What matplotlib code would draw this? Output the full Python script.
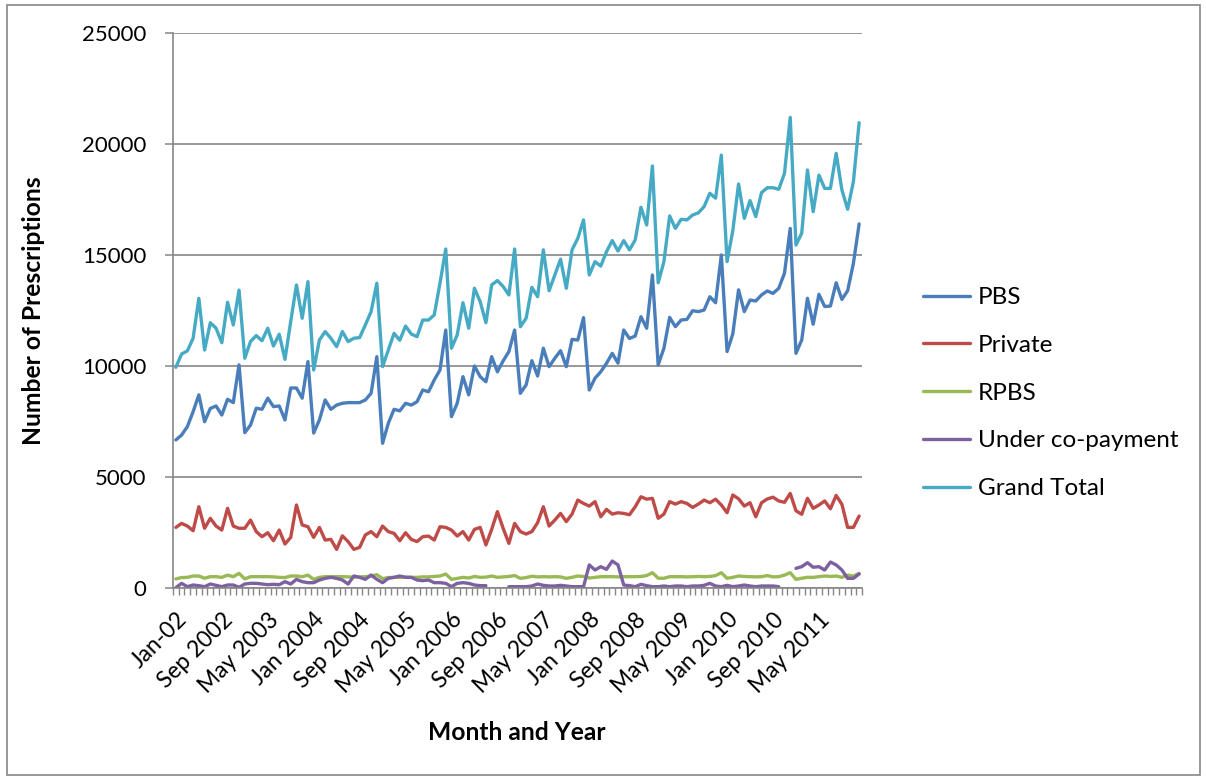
import numpy as np
import matplotlib
matplotlib.use("Agg")
import matplotlib.pyplot as plt
import matplotlib.transforms as mtransforms
from matplotlib.patches import Rectangle

# ---- data (Jan 2002 .. Dec 2011, monthly) ----
tick_labels = ["Jan-02", "Sep 2002", "May 2003", "Jan 2004", "Sep 2004", "May 2005",
               "Jan 2006", "Sep 2006", "May 2007", "Jan 2008", "Sep 2008", "May 2009",
               "Jan 2010", "Sep 2010", "May 2011"]

pbs = [6670, 6890, 7270, 7940, 8700, 7490, 8090, 8200, 7790, 8500, 8350, 10050,
       7000, 7340, 8100, 8050, 8550, 8170, 8200, 7570, 9010, 9010, 8550, 10200,
       6980, 7570, 8470, 8050, 8240, 8320, 8350, 8350, 8350, 8470, 8770, 10420,
       6520, 7420, 8050, 7980, 8320, 8240, 8390, 8920, 8840, 9370, 9820, 11620,
       7720, 8320, 9520, 8700, 10000, 9520, 9290, 10420, 9740, 10230, 10650, 11620,
       8770, 9150, 10240, 9550, 10800, 9970, 10350, 10690, 9970, 11200, 11170, 12180,
       8920, 9450, 9740, 10120, 10570, 10130, 11620, 11240, 11350, 12220, 11700, 14100,
       10050, 10800, 12190, 11770, 12070, 12100, 12490, 12450, 12520, 13120, 12850, 15000,
       10650, 11450, 13430, 12450, 12970, 12930, 13200, 13380, 13270, 13500, 14180, 16200,
       10570, 11170, 13050, 11880, 13230, 12680, 12700, 13750, 13000, 13390, 14620, 16400]

private = [2730, 2910, 2790, 2580, 3660, 2690, 3140, 2790, 2610, 3590, 2790, 2690,
           2690, 3060, 2540, 2310, 2490, 2130, 2610, 1980, 2280, 3740, 2840, 2760,
           2280, 2730, 2160, 2190, 1740, 2350, 2090, 1740, 1830, 2390, 2540, 2310,
           2790, 2540, 2460, 2130, 2490, 2190, 2090, 2310, 2340, 2160, 2760, 2730,
           2610, 2340, 2540, 2160, 2640, 2730, 1940, 2640, 3440, 2690, 2010, 2910,
           2540, 2430, 2540, 2940, 3660, 2790, 3060, 3360, 2990, 3330, 3960, 3810,
           3690, 3890, 3210, 3540, 3330, 3390, 3360, 3300, 3660, 4110, 4000, 4040,
           3140, 3330, 3890, 3780, 3890, 3810, 3630, 3780, 3960, 3840, 4000, 3740,
           3390, 4190, 4020, 3690, 3840, 3210, 3840, 4010, 4090, 3920, 3860, 4260,
           3480, 3320, 4040, 3590, 3740, 3920, 3570, 4170, 3770, 2730, 2730, 3240]

rpbs = [410, 470, 480, 540, 540, 440, 510, 510, 480, 580, 510, 660,
        410, 510, 510, 510, 510, 500, 480, 470, 540, 540, 510, 580,
        390, 480, 510, 510, 510, 510, 500, 490, 500, 510, 540, 600,
        420, 470, 480, 480, 490, 480, 480, 500, 500, 520, 540, 630,
        390, 430, 480, 450, 520, 480, 490, 540, 480, 500, 520, 560,
        435, 470, 530, 500, 510, 500, 510, 500, 435, 480, 540, 520,
        450, 480, 510, 510, 510, 500, 510, 510, 510, 520, 560, 690,
        440, 440, 510, 510, 510, 500, 510, 520, 510, 520, 560, 690,
        435, 480, 540, 520, 510, 500, 510, 560, 500, 510, 580, 690,
        390, 440, 480, 480, 510, 540, 520, 540, 480, 580, 540, 660]

nan = np.nan
under_copay = [15, 210, 60, 135, 105, 60, 180, 120, 60, 135, 135, 30,
               180, 210, 210, 180, 150, 165, 150, 285, 180, 390, 285, 240,
               240, 360, 435, 480, 435, 360, 180, 540, 480, 390, 585, 390,
               240, 435, 480, 540, 480, 480, 360, 330, 360, 240, 240, 210,
               60, 210, 240, 210, 135, 105, 105, nan, nan, nan, 60, 60,
               60, 60, 90, 180, 120, 90, 90, 120, 90, 60, 60, 60,
               1040, 810, 960, 840, 1215, 1040, 135, 105, 60, 165, 105, 60,
               60, 90, 60, 90, 90, 60, 90, 90, 120, 210, 90, 60,
               120, 60, 90, 135, 90, 60, 90, 90, 90, 60, nan, nan,
               885, 960, 1140, 935, 960, 810, 1170, 1040, 810, 435, 435, 630]

grand_total = [9940, 10540, 10680, 11250, 13050, 10720, 11950, 11700, 11050, 12870, 11850, 13420,
               10350, 11100, 11370, 11140, 11700, 10900, 11430, 10300, 12000, 13650, 12150, 13800,
               9820, 11170, 11550, 11250, 10870, 11550, 11100, 11250, 11280, 11850, 12450, 13730,
               9970, 10720, 11470, 11160, 11800, 11440, 11320, 12070, 12070, 12300, 13730, 15270,
               10800, 11400, 12850, 11700, 13500, 12900, 11950, 13650, 13850, 13580, 13200, 15270,
               11770, 12150, 13540, 13120, 15230, 13390, 14100, 14810, 13500, 15230, 15750, 16580,
               14100, 14700, 14500, 15150, 15650, 15180, 15650, 15230, 15680, 17150, 16350, 19010,
               13750, 14700, 16760, 16200, 16610, 16580, 16800, 16900, 17180, 17780, 17560, 19500,
               14700, 16100, 18200, 16650, 17450, 16730, 17810, 18030, 18030, 17960, 18680, 21200,
               15450, 15980, 18830, 16950, 18600, 18000, 18000, 19580, 17930, 17060, 18300, 20960]

series_names = ["PBS", "Private", "RPBS", "Under co-payment", "Grand Total"]
series_colors = ["#4A7EBB", "#BE4B48", "#98B954", "#7D60A0", "#46AAC5"]
label_step = 8

# ---- figure ----
plt.rcParams['font.family'] = ['Lato', 'DejaVu Sans']
W, H = 1206, 778
fig = plt.figure(figsize=(W / 100, H / 100), dpi=100)
fig.patch.set_facecolor("white")

L, R, T, B = 173, 862, 33, 588
ax = fig.add_axes([L / W, 1 - B / H, (R - L) / W, (B - T) / H])

gray = "#868686"
x = np.arange(len(pbs))
for vals, name, col in zip([pbs, private, rpbs, under_copay, grand_total], series_names, series_colors):
    ax.plot(x, vals, color=col, lw=2.4, label=name, solid_joinstyle="round", solid_capstyle="round")

ax.set_xlim(-0.5, len(pbs) - 0.5)
ax.set_ylim(0, 25000)
ax.set_yticks(np.arange(0, 25001, 5000))
ax.yaxis.grid(True, color=gray, lw=1.2)
ax.set_axisbelow(True)

ax.set_xticks(x[::label_step])
ax.set_xticklabels(tick_labels, rotation=45, ha="right", rotation_mode="anchor", fontsize=16.5)
shift = mtransforms.ScaledTranslation(-4 / 100, 0, fig.dpi_scale_trans)
for lab in ax.get_xticklabels():
    lab.set_transform(lab.get_transform() + shift)
ax.set_xticks(np.arange(-0.5, len(pbs), 1), minor=True)
ax.tick_params(axis="x", which="major", length=0, pad=15)
ax.tick_params(axis="x", which="minor", length=5, width=1, color=gray, direction="out")
ax.tick_params(axis="y", which="major", length=6, width=1.1, color=gray, direction="out",
               labelsize=16, pad=13)

for s in ["top", "right"]:
    ax.spines[s].set_visible(False)
for s in ["left", "bottom"]:
    ax.spines[s].set_color(gray)
    ax.spines[s].set_linewidth(1.2)

ax.set_xlabel("Month and Year", fontsize=17.7, fontweight="bold")
ax.xaxis.set_label_coords((517 - L) / (R - L), (B - 733) / (B - T))
ax.xaxis.label.set_va("center")
ax.set_ylabel("Number of Prescriptions", fontsize=17.7, fontweight="bold")
ax.yaxis.set_label_coords((33 - L) / (R - L), (B - 311) / (B - T))
ax.yaxis.label.set_va("center")

leg = ax.legend(loc="center left", bbox_to_anchor=(923 / W, 1 - 393 / H),
                bbox_transform=fig.transFigure, frameon=False, fontsize=17.5,
                handlelength=1.93, handletextpad=0.33, labelspacing=1.1,
                borderpad=0, borderaxespad=0)

fig.add_artist(Rectangle((7 / W, 3 / H), (1200 - 7) / W, (774 - 4) / H,
                         transform=fig.transFigure, fill=False, edgecolor=gray, lw=1.2))

fig.savefig("out.png", dpi=100)
